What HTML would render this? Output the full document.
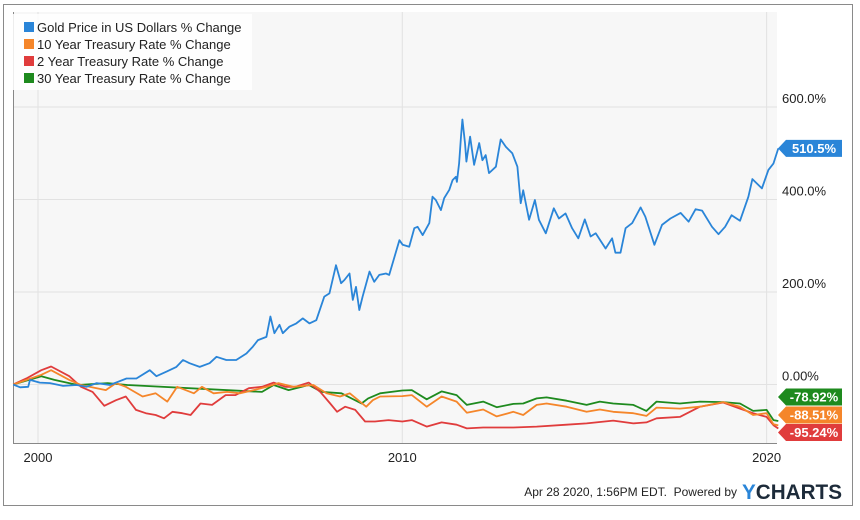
<!DOCTYPE html>
<html><head><meta charset="utf-8"><style>
body{margin:0;background:#fff;width:860px;height:515px;overflow:hidden;font-family:"Liberation Sans",sans-serif}
svg text{font-family:"Liberation Sans",sans-serif}
</style></head><body>
<svg id="c" width="860" height="515">
<rect x="3.5" y="4.5" width="849" height="501" fill="#fff" stroke="#8a8a8a"/>
<rect x="13" y="12" width="764" height="431" fill="#f7f7f7"/>
<g id="grid"></g>
<line x1="13.5" y1="12" x2="13.5" y2="443" stroke="#888"/>
<line x1="13" y1="443.5" x2="777" y2="443.5" stroke="#888"/>
<g id="series"></g>
<g id="legend">
<rect x="12" y="14" width="240" height="76" fill="#fff" opacity="0.85"/>
</g>
<g id="flags"></g>
<text x="737" y="496" font-size="12" fill="#222" text-anchor="end" xml:space="preserve">Apr 28 2020, 1:56PM EDT.  Powered by</text>
<text x="742" y="499" font-size="21" font-weight="bold" fill="#1d2b3a" textLength="100" lengthAdjust="spacingAndGlyphs"><tspan fill="#2a85d8">Y</tspan>CHARTS</text>
</svg>
<script>
const goldYears=[1999.32,1999.51,1999.73,1999.78,2000.05,2000.33,2000.69,2001.06,2001.33,2001.61,2001.97,2002.43,2002.70,2003.07,2003.25,2003.53,2003.80,2003.98,2004.16,2004.44,2004.71,2004.90,2005.17,2005.44,2005.72,2005.90,2006.04,2006.27,2006.38,2006.49,2006.63,2006.72,2006.90,2007.09,2007.27,2007.45,2007.64,2007.86,2008.0,2008.18,2008.32,2008.41,2008.55,2008.64,2008.73,2008.82,2008.91,2009.10,2009.23,2009.37,2009.55,2009.64,2009.92,2010.01,2010.19,2010.33,2010.42,2010.56,2010.74,2010.83,2010.92,2011.06,2011.15,2011.29,2011.38,2011.47,2011.5,2011.56,2011.61,2011.65,2011.72,2011.76,2011.86,2011.97,2012.11,2012.20,2012.29,2012.38,2012.57,2012.70,2012.84,2013.02,2013.16,2013.25,2013.32,2013.48,2013.64,2013.75,2013.94,2014.16,2014.30,2014.48,2014.66,2014.83,2015.01,2015.17,2015.31,2015.58,2015.76,2015.85,2015.99,2016.13,2016.31,2016.54,2016.67,2016.92,2017.13,2017.36,2017.64,2017.86,2018.05,2018.23,2018.50,2018.68,2018.86,2019.04,2019.27,2019.50,2019.61,2019.87,2020.05,2020.19,2020.32];
const goldValues=[0,-6,-5,10,4,3,-3,-1,-5,3,-1,13,13,31,18,28,38,53,46,38,46,60,53,53,67,82,96,103,147,111,129,111,125,132,143,132,139,190,197,258,219,226,240,183,211,161,190,244,222,237,240,237,312,302,298,338,341,323,349,406,399,377,403,421,442,449,438,478,536,573,522,482,536,475,522,485,496,457,471,530,514,500,471,392,420,356,399,356,327,381,359,370,338,316,357,320,327,294,316,285,285,338,349,383,363,302,345,359,371,352,379,376,341,325,341,366,354,406,444,424,464,478,510.5];
const t10Years=[1999.32,2000.09,2000.36,2000.86,2001.18,2001.86,2002.14,2002.41,2002.87,2003.23,2003.55,2003.82,2004.28,2004.50,2004.82,2005.19,2005.55,2005.92,2006.28,2006.60,2007.01,2007.56,2007.92,2008.29,2008.56,2009.01,2009.19,2009.39,2010.0,2010.26,2010.67,2011.08,2011.49,2011.77,2012.22,2012.59,2013.05,2013.32,2013.69,2013.96,2014.51,2015.06,2015.42,2015.79,2016.34,2016.70,2016.98,2017.62,2018.17,2018.81,2019.27,2019.63,2020.0,2020.19,2020.32];
const t10Values=[0,21,31,10,-1,-12,3,-5,-26,-19,-37,-5,-19,-5,-19,-16,-19,-12,-5,3,-5,-1,-19,-26,-19,-48,-34,-26,-25,-23,-48,-26,-37,-61,-54,-69,-59,-66,-44,-41,-48,-59,-54,-59,-62,-68,-50,-52,-48,-38,-48,-66,-62,-86,-88.51];
const t2Years=[1999.32,1999.68,2000.09,2000.36,2000.86,2001.18,2001.50,2001.82,2002.14,2002.41,2002.69,2002.96,2003.23,2003.46,2003.69,2003.96,2004.19,2004.46,2004.78,2005.15,2005.42,2005.79,2006.15,2006.47,2006.79,2007.06,2007.43,2007.75,2008.02,2008.21,2008.43,2008.71,2008.98,2009.25,2009.62,2010.0,2010.26,2010.67,2011.08,2011.49,2011.77,2012.22,2013.05,2013.69,2014.51,2015.06,2015.79,2016.34,2016.70,2016.98,2017.62,2018.17,2018.81,2019.27,2019.63,2020.0,2020.19,2020.32];
const t2Values=[0,13,31,39,18,-5,-16,-46,-34,-26,-55,-62,-66,-73,-59,-62,-66,-41,-44,-23,-23,-8,-5,4,-5,-5,4,-16,-41,-59,-48,-55,-80,-80,-77,-80,-77,-91,-82,-87,-95,-93,-93,-91,-87,-84,-78,-84,-82,-73,-70,-48,-39,-52,-62,-70,-88,-95.24];
const t30Years=[1999.32,2000.09,2000.45,2001.09,2001.91,2002.45,2006.15,2006.47,2006.88,2007.43,2007.79,2008.33,2008.88,2009.06,2009.39,2010.0,2010.26,2010.67,2011.08,2011.49,2011.77,2012.22,2012.59,2013.05,2013.32,2013.69,2013.96,2014.51,2015.06,2015.42,2015.79,2016.34,2016.70,2016.98,2017.62,2018.17,2018.81,2019.27,2019.63,2020.0,2020.19,2020.32];
const t30Values=[0,18,10,-1,3,-1,-16,-1,-12,-1,-16,-19,-41,-30,-19,-13,-12,-32,-15,-23,-44,-37,-49,-42,-41,-30,-28,-35,-44,-37,-41,-44,-57,-37,-41,-37,-38,-41,-57,-55,-77,-78.92];
const yTicks=[0,200,400,600];
const yTickLabels=["0.00%","200.0%","400.0%","600.0%"];
const xTicks=[2000,2010,2020];
const names=["Gold Price in US Dollars % Change","10 Year Treasury Rate % Change","2 Year Treasury Rate % Change","30 Year Treasury Rate % Change"];
const colors=["#2a85d8","#f5862a","#e03c3c","#1e8a1e"];

const NS="http://www.w3.org/2000/svg";
function X(yr){return 38+(yr-2000)*36.43;}
function Y(v){return 384.5-v*0.4625;}
function mk(tag,at,parent){const e=document.createElementNS(NS,tag);for(const k in at)e.setAttribute(k,at[k]);parent.appendChild(e);return e;}
const grid=document.getElementById('grid');
yTicks.forEach((v,i)=>{
  const l=mk('line',{x1:13,x2:777,y1:Y(v),y2:Y(v),stroke:'#e2e2e2'},grid);
  
  
  const t=mk('text',{x:782,y:Y(v)-4,'font-size':13,fill:'#222'},grid);
  t.textContent=yTickLabels[i];
  
  
});
xTicks.forEach(yr=>{
  const l=mk('line',{x1:X(yr),x2:X(yr),y1:12,y2:443,stroke:'#e2e2e2'},grid);
  
  
  const t=mk('text',{x:X(yr),y:462,'font-size':13,fill:'#222','text-anchor':'middle'},grid);
  t.textContent=String(yr);
  
  
});
const ser=document.getElementById('series');
const sets=[[t30Years,t30Values,3],[t2Years,t2Values,2],[t10Years,t10Values,1],[goldYears,goldValues,0]];
sets.forEach(([ys,vs,ci])=>{
  const d=ys.map((y,i)=>(i?'L':'M')+X(y).toFixed(1)+','+Y(vs[i]).toFixed(1)).join('');
  const p=mk('path',{d:d,fill:'none',stroke:colors[ci],'stroke-width':1.8,'stroke-linejoin':'round'},ser);
  
  
});
const lg=document.getElementById('legend');
names.forEach((n,i)=>{
  const r=mk('rect',{x:24,y:22+i*17,width:10,height:10,fill:colors[i]},lg);
  
  
  const t=mk('text',{x:37,y:32+i*17,'font-size':13,fill:'#222'},lg);
  t.textContent=n;
  
  
});
const fl=document.getElementById('flags');
const flagData=[[goldValues,0,Y(goldValues[goldValues.length-1])],[t30Values,3,397],[t10Values,1,415],[t2Values,2,432.5]];
flagData.forEach(([vs,ci,cy])=>{
  const v=vs[vs.length-1];
  const g=mk('g',{},fl);
  
  
  mk('path',{d:`M778,${cy}L786,${cy-8.5}L842,${cy-8.5}L842,${cy+8.5}L786,${cy+8.5}Z`,fill:colors[ci]},g);
  const t=mk('text',{x:814,y:cy+4.5,'font-size':13,'font-weight':'bold',fill:'#fff','text-anchor':'middle'},g);
  t.textContent=(ci===0?v.toFixed(1):v.toFixed(2))+'%';
});
</script>
</body></html>
